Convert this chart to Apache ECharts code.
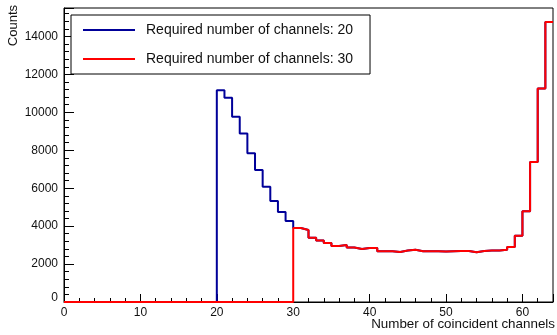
<!DOCTYPE html>
<html>
<head>
<meta charset="utf-8">
<title>Coincident channels</title>
<script src="https://cdn.jsdelivr.net/npm/echarts@6/dist/echarts.min.js"></script>
<style>
  html, body { margin: 0; padding: 0; background: #fff; }
  #main { width: 557px; height: 335px; }
</style>
</head>
<body>
<div id="main"></div>
<script>
// bins are 1 channel wide, 0..63
var nBins = 64;
// counts only present when 20 channels required (bins 20..29)
var lowBins = [11170, 10770, 9770, 8890, 7840, 6960, 6080, 5320, 4740, 4270];
// counts shared by both thresholds (bins 30..63)
var sharedBins = [3900, 3800, 3390, 3240, 3110, 2950, 3000, 2870, 2800, 2850,
                  2850, 2680, 2680, 2640, 2710, 2760, 2680, 2680, 2680, 2660,
                  2680, 2690, 2690, 2620, 2690, 2720, 2720, 2760, 2900, 3490,
                  4780, 7380, 11250, 14760];
var seriesNames = ['Required number of channels: 20', 'Required number of channels: 30'];
var seriesColors = ['#000099', '#ff0000'];
var thresholds = [20, 30];

function histo(start) {
    var vals = [];
    for (var i = 0; i < nBins; i++) {
        if (i < start) vals.push(0);
        else if (i < 30) vals.push(lowBins[i - 20]);
        else vals.push(sharedBins[i - 30]);
    }
    // step points at bin lower edges, plus closing edge
    var pts = vals.map(function (v, i) { return [i, v]; });
    pts.push([nBins, vals[nBins - 1]]);
    return pts;
}

var font = 'Liberation Sans, Arial, Helvetica, sans-serif';
var myChart = echarts.init(document.getElementById('main'));

myChart.setOption({
    animation: false,
    textStyle: { fontFamily: font },
    grid: {
        left: 64, right: 4, top: 8, bottom: 33,
        show: true, borderColor: '#000', borderWidth: 1
    },
    legend: {
        orient: 'vertical',
        left: 71, top: 15,
        data: seriesNames,
        icon: 'rect',
        itemWidth: 52, itemHeight: 2,
        itemGap: 13,
        padding: [7, 17, 7, 12],
        borderColor: '#000', borderWidth: 1,
        backgroundColor: '#fff',
        textStyle: { fontSize: 14, lineHeight: 16, color: '#111', fontFamily: font, padding: [0, 0, 0, 6] }
    },
    xAxis: {
        type: 'value',
        min: 0, max: 64, interval: 10,
        axisLine: { show: true, onZero: false, lineStyle: { color: '#000', width: 1 } },
        axisTick: { inside: true, length: 8, lineStyle: { color: '#000' } },
        minorTick: { show: true, splitNumber: 5, length: 4, lineStyle: { color: '#000' } },
        splitLine: { show: false },
        axisLabel: { showMaxLabel: false, margin: 5, fontSize: 12, color: '#111', fontFamily: font }
    },
    yAxis: {
        type: 'value',
        min: 0, max: 15500, interval: 2000,
        axisLine: { show: true, lineStyle: { color: '#000', width: 1 } },
        axisTick: { inside: true, length: 10, lineStyle: { color: '#000' } },
        minorTick: { show: true, splitNumber: 5, length: 5, lineStyle: { color: '#000' } },
        splitLine: { show: false },
        axisLabel: {
            showMaxLabel: false, margin: 6, fontSize: 12, color: '#111', fontFamily: font,
            formatter: function (v) { return v === 0 ? '{z|0}' : String(v); },
            rich: { z: { fontSize: 12, color: '#111', padding: [0, 0, 8, 0] } }
        }
    },
    graphic: [
        {
            type: 'text', right: 2, top: 318,
            style: { text: 'Number of coincident channels', fill: '#111', font: '13.4px ' + font }
        },
        {
            type: 'text', x: 13, y: 5, rotation: Math.PI / 2,
            style: { text: 'Counts', fill: '#111', font: '13px ' + font, align: 'right', verticalAlign: 'middle' }
        }
    ],
    series: thresholds.map(function (t, k) {
        return {
            name: seriesNames[k],
            type: 'line',
            step: 'end',
            showSymbol: false,
            symbol: 'none',
            data: histo(t),
            itemStyle: { color: seriesColors[k] },
            lineStyle: { color: seriesColors[k], width: 2 },
            z: 2 + k
        };
    })
});
</script>
</body>
</html>
